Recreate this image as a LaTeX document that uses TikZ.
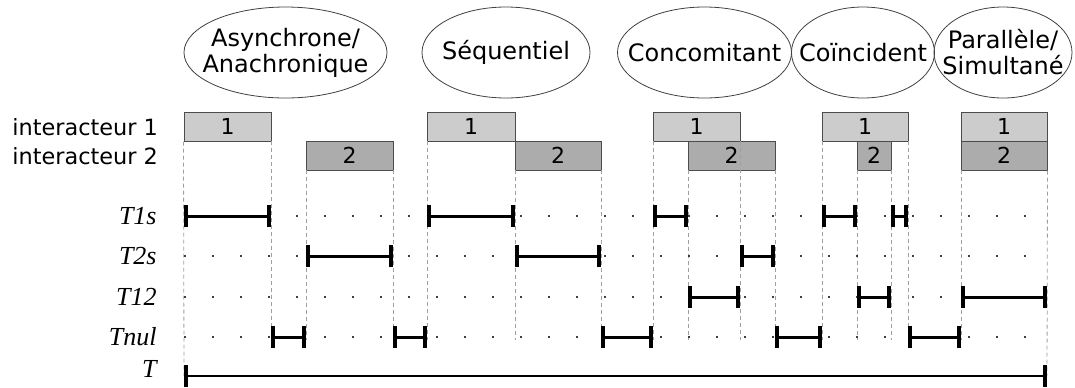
\documentclass[tikz,border=0pt]{standalone}
\usepackage{fontspec}
\setmainfont{DejaVu Sans}
\newfontfamily\serifit{Liberation Serif}
\usepackage{tikz}
\usetikzlibrary{shapes.geometric, arrows.meta}

\begin{document}
\begin{tikzpicture}[
        x=0.5pt, y=-0.5pt,
        phase/.style={ellipse, draw=black!75, line width=0.4pt, minimum height=45.5pt,
                      inner sep=0pt},
        phasetext/.style={align=center, font=\fontsize{12}{13}\selectfont},
        bloc/.style={rectangle, draw=black!70, line width=0.5pt, fill=#1, inner sep=0pt,
                     minimum height=14.5pt, font=\fontsize{11}{12}\selectfont},
        bloc/.default=gray!40,
        who/.style={anchor=west, inner sep=0pt, font=\fontsize{11.2}{12}\selectfont},
        rowname/.style={anchor=east, inner sep=0pt,
                        font=\serifit\itshape\fontsize{13}{14}\selectfont},
        guide/.style={gray!75, line width=0.4pt, dash pattern=on 2pt off 1.5pt},
        track/.style={black!75, line width=1.1pt, dash pattern=on 1.1pt off 12.9pt},
        span/.style={{Bar[width=11pt, line width=2pt]}-{Bar[width=11pt, line width=2pt]},
                     line width=1.5pt}
    ]
        \useasboundingbox (0,0) rectangle (1075,387);

        % Phases
        \node[phase, minimum width=101.5pt] (async) at (285.5,52.5) {};
        \node[phase, minimum width=84pt] (seq) at (506,52.5) {};
        \node[phase, minimum width=87pt] (conc) at (704.5,52.5) {};
        \node[phase, minimum width=71.5pt] (coinc) at (863,52.5) {};
        \node[phase, minimum width=69pt] (para) at (1003,52.5) {};
        \node[phasetext] (asynctxt) at (async) {Asynchrone/\\Anachronique};
        \node[phasetext] (seqtxt) at (seq) {Séquentiel};
        \node[phasetext] (conctxt) at (conc) {Concomitant};
        \node[phasetext] (coinctxt) at (coinc) {Coïncident};
        \node[phasetext] (paratxt) at (para) {Parallèle/\\Simultané};

        % Interacteurs
        \node[who] (inter1) at (12,127) {interacteur 1};
        \node[who] (inter2) at (12,156) {interacteur 2};
        \foreach \cx/\w [count=\i] in {227.5/43.5, 471/44, 696.5/43.5, 865/43, 1004/43}
            \node[bloc, minimum width=\w pt] (one\i) at (\cx,126.5) {1};
        \foreach \cx/\w [count=\i] in {349.5/43.5, 558/43, 731.5/43.5, 874/17, 1004/43}
            \node[bloc=gray!65, minimum width=\w pt] (two\i) at (\cx,155.5) {2};

        % Guides
        \foreach \x/\y in {271/141, 306/170, 393/170, 427/141, 515/170, 601/170, 653/141,
                           688/170, 740/141, 775/170, 822/141, 857/170, 891/170, 908/141,
                           961/170}
            \draw[guide] (\x,\y) -- (\x,340);
        \draw[guide] (one1.south west) -- (184,376);
        \draw[guide] (two5.south east) -- (1047,376);

        % Rows
        \node[rowname] (t1s) at (157,216) {T1s};
        \node[rowname] (t2s) at (157,256) {T2s};
        \node[rowname] (t12) at (157,297) {T12};
        \node[rowname] (tnul) at (157,337) {Tnul};
        \node[rowname] (tall) at (157,369) {T};
        \foreach \y in {216,256,297,337}
            \draw[track] (184,\y) -- (1047,\y);

        % Spans
        \foreach \a/\b in {184/271, 427/515, 653/688, 822/857, 891/908}
            \draw[span] (\a,216) -- (\b,216);
        \foreach \a/\b in {306/393, 515/601, 740/775}
            \draw[span] (\a,256) -- (\b,256);
        \foreach \a/\b in {688/740, 857/891, 961/1047}
            \draw[span] (\a,297) -- (\b,297);
        \foreach \a/\b in {271/306, 393/427, 601/653, 775/822, 908/961}
            \draw[span] (\a,337) -- (\b,337);
        \draw[span, line width=1pt] (184,376) -- (1047,376);
    \end{tikzpicture}
\end{document}
